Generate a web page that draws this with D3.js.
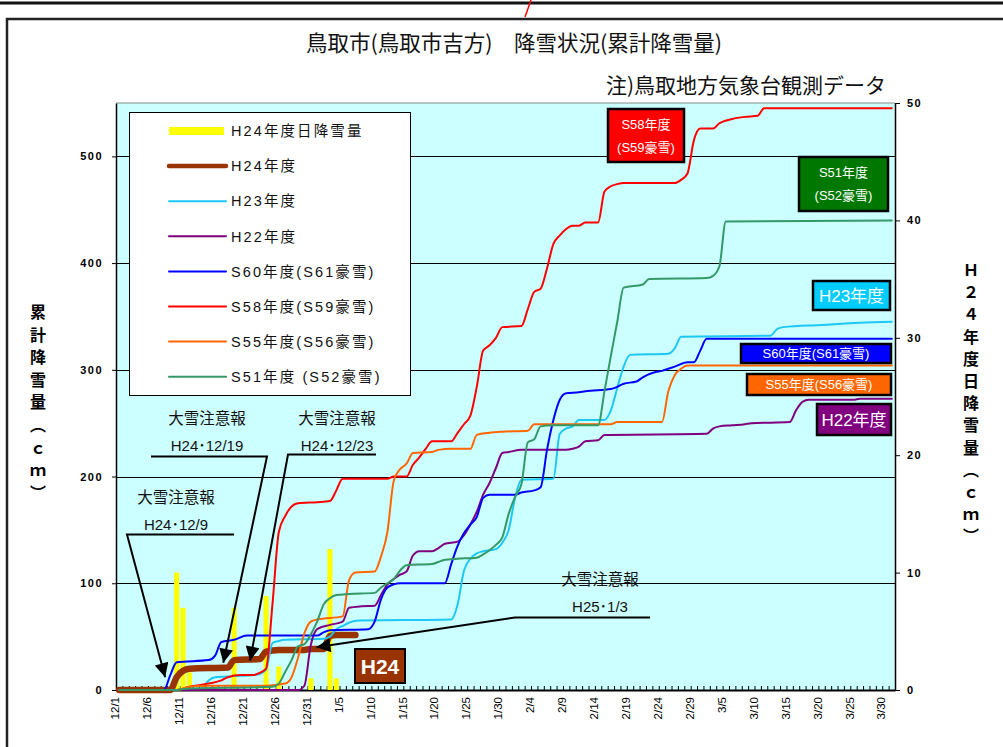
<!DOCTYPE html>
<html>
<head>
<meta charset="utf-8">
<script src="https://cdn.jsdelivr.net/npm/d3@7/dist/d3.min.js"></script>
<style>
  body { margin: 0; background: #fff; }
  svg { display: block; }
</style>
</head>
<body>
<script>
// ---- data ----------------------------------------------------------
// season runs 12/1 .. 3/31 (leap February), one category per day
const monthLengths = [["12", 31], ["1", 31], ["2", 29], ["3", 31]];
const tickLabels = ["12/1","12/6","12/11","12/16","12/21","12/26","12/31","1/5","1/10","1/15",
  "1/20","1/25","1/30","2/4","2/9","2/14","2/19","2/24","2/29","3/5","3/10","3/15","3/20","3/25","3/30"];

// daily snowfall H24 (day index from 12/1, cm) - right axis
const h24Daily = [[9,10],[10,7],[11,1.5],[18,7],[23,8],[25,2],[30,1],[33,12],[34,1]];

// cumulative snowfall (day index, cm) - left axis
const h24Total = [[0,0],[8,0],[9,12],[10,18],[11,20],[17,21],[18,28],[22,29],[23,36],[25,37.5],
  [29,37.5],[30,38.5],[32,38.5],[33,50.5],[34,51.5],[37,51.5]];
const h23Total = [[0,0],[12,0],[13,2],[14,9],[15,12],[18,13],[21,14],[22,15],[23,19],[24,44],[25,46],
  [26,47],[32,48],[33,50],[34,57],[35,60],[36,63],[37,65],[52,66],[53,80],[54,112],[55,123],[56,128],
  [57,130],[59,132],[60,138],[61,150],[62,180],[63,197],[68,198],[69,240],[70,245],[71,247],[72,253],
  [76,253],[77,262],[78,283],[79,303],[80,314],[86,315],[87,320],[88,331],[102,332],[103,338],
  [104,340],[110,342],[116,344],[121,345]];
const h22Total = [[0,0],[28,0],[29,4],[30,42],[31,57],[33,61],[35,64],[36,77],[38,78.5],[40,79],
  [41,89],[42,99],[43,104],[44,108],[45,111],[46,126],[47,130],[49,130],[50,133],[51,137],[53,139],
  [54,145],[55,155],[56,167],[57,183],[58,194],[59,208],[60,222],[61,223],[63,225],[70,225],[71,226],
  [72,228],[73,233],[75,234],[76,239],[92,240],[93,245],[94,247],[96,248],[98,249],[99,250],
  [105,251],[106,262],[107,270],[108,272],[115,272],[116,273],[121,273]];
const s60Total = [[0,0],[7,0],[8,14],[9,26],[14,28],[15,32],[16,45],[18,47],[20,51],[31,51],[32,54],
  [33,56],[39,57],[40,64],[41,85],[42,96],[43,99],[44,100],[51,100],[52,118],[53,135],[54,147],
  [55,155],[56,162],[57,180],[58,183],[62,183],[63,185],[65,187],[66,190],[67,225],[68,253],[69,272],
  [70,278],[72,279],[73,280],[77,282],[78,284],[79,287],[81,289],[82,293],[83,296],[84,298],[85,299],
  [86,301],[87,303],[89,307],[90,307],[91,318],[92,329],[121,329]];
const s58Total = [[0,0],[9,0],[11,3],[14,6],[16,9],[17,12],[19,14],[21,14],[22,16],[23,20],[24,80],
  [25,148],[26,163],[27,172],[28,175],[31,176],[33,177],[34,187],[35,198],[42,198],[43,200],[45,200],
  [46,211],[47,218],[48,226],[49,233],[52,233],[53,241],[54,249],[55,257],[56,284],[57,318],[58,323],
  [59,330],[60,340],[63,341],[64,357],[65,373],[66,376],[67,395],[68,418],[69,426],[70,432],[71,435],
  [72,435],[73,438],[75,438],[76,467],[77,472],[78,474],[79,475],[87,475],[88,478],[89,484],[90,515],
  [91,526],[93,526],[94,531],[96,535],[98,537],[100,538],[101,545],[121,545]];
const s55Total = [[0,0],[9,0],[11,3],[14,4],[23,4],[26,6],[27,12],[28,30],[29,53],[30,64],[31,66],
  [35,69],[36,103],[37,110],[40,111],[41,125],[42,148],[43,196],[44,207],[45,212],[46,222],[49,223],
  [50,225],[52,226],[55,226],[56,239],[58,241],[60,242],[64,243],[65,249],[77,249],[78,251],[85,251],
  [86,280],[87,295],[88,301],[89,304],[121,304]];
const s51Total = [[0,0],[9,0],[10,1],[24,3],[25,6],[26,17],[27,28],[28,41],[29,43],[30,52],[31,64],
  [32,80],[33,86],[34,89],[36,90],[40,91],[41,96],[42,100],[43,104],[44,112],[45,117],[49,118],
  [50,120],[51,122],[53,123],[56,124],[57,127],[58,131],[59,136],[60,143],[61,165],[62,181],[63,193],
  [64,232],[65,235],[66,247],[68,248],[75,248],[76,280],[77,313],[78,345],[79,377],[82,380],[83,385],
  [92,386],[93,388],[94,397],[95,439],[121,440]];

const leftTicks = [0, 100, 200, 300, 400, 500];
const rightTicks = [0, 10, 20, 30, 40, 50];

// heavy snow warnings: [label, date text, day index, cm on H24 line]
const alerts = [
  ["大雪注意報", "H24･12/9", 7.2, 12],
  ["大雪注意報", "H24･12/19", 16.3, 25.5],
  ["大雪注意報", "H24･12/23", 20.5, 27.5],
  ["大雪注意報", "H25･1/3", 30.9, 40]
];

// ---- layout --------------------------------------------------------
const W = 1003, H = 747;
const plot = {left: 116, right: 895, top: 103, bottom: 690};
const jp = "'Noto Sans CJK JP', sans-serif";
const mixed = "'Liberation Sans', 'Noto Sans CJK JP', sans-serif";

const days = [];
monthLengths.forEach(([m, n]) => { for (let d = 1; d <= n; d++) days.push(m + "/" + d); });

const x = d3.scaleLinear().domain([-0.5, days.length - 0.5]).range([plot.left, plot.right]);
const y = d3.scaleLinear().domain([0, 550]).range([plot.bottom, plot.top]);
const y2 = d3.scaleLinear().domain([0, 50]).range([plot.bottom, plot.top]);

const svg = d3.select("body").append("svg").attr("width", W).attr("height", H);

// page frame bits
svg.append("line").attr("x1", 0).attr("x2", W).attr("y1", 3).attr("y2", 3)
  .attr("stroke", "#111").attr("stroke-width", 3);
svg.append("rect").attr("x", 7).attr("y", 19).attr("width", W + 20).attr("height", H)
  .attr("fill", "none").attr("stroke", "#222").attr("stroke-width", 2.5);
svg.append("line").attr("x1", 531).attr("y1", 0).attr("x2", 525).attr("y2", 17)
  .attr("stroke", "#f00").attr("stroke-width", 1.5);

// titles
svg.append("text").attr("x", 514).attr("y", 51).attr("text-anchor", "middle")
  .style("font-family", jp).style("font-size", "21.5px").attr("fill", "#111")
  .text("鳥取市(鳥取市吉方)　降雪状況(累計降雪量)");
svg.append("text").attr("x", 886).attr("y", 93).attr("text-anchor", "end")
  .style("font-family", jp).style("font-size", "21px").attr("fill", "#111")
  .text("注)鳥取地方気象台観測データ");

// plot background
svg.append("rect").attr("x", plot.left).attr("y", plot.top)
  .attr("width", plot.right - plot.left).attr("height", plot.bottom - plot.top)
  .attr("fill", "#ccffff");
svg.append("line").attr("x1", plot.left).attr("x2", plot.right).attr("y1", plot.top).attr("y2", plot.top)
  .attr("stroke", "#888").attr("stroke-width", 1);

// gridlines
svg.append("g").selectAll("line").data(leftTicks.slice(1)).enter().append("line")
  .attr("x1", plot.left).attr("x2", plot.right)
  .attr("y1", d => Math.round(y(d)) + 0.5).attr("y2", d => Math.round(y(d)) + 0.5)
  .attr("stroke", "#000").attr("stroke-width", 1);

// axes
const axL = svg.append("g").attr("transform", `translate(${plot.left},0)`)
  .call(d3.axisLeft(y).tickValues(leftTicks).tickSize(4).tickSizeOuter(0).tickPadding(9));
const axR = svg.append("g").attr("transform", `translate(${plot.right},0)`)
  .call(d3.axisRight(y2).tickValues(rightTicks).tickSize(5).tickSizeOuter(0).tickPadding(7));
[axL, axR].forEach(g => {
  g.select(".domain").attr("stroke", "#000").attr("stroke-width", 1.5);
  g.selectAll("text").style("font-family", mixed).style("font-size", "11px")
    .style("font-weight", "bold").style("letter-spacing", "1.5px").attr("fill", "#000");
});

const axB = svg.append("g").attr("transform", `translate(0,${plot.bottom})`)
  .call(d3.axisBottom(x).tickValues(d3.range(-0.5, days.length, 1)).tickSize(-4)
    .tickSizeOuter(0).tickFormat(""));
axB.select(".domain").attr("stroke", "#000").attr("stroke-width", 2);
axB.selectAll(".tick line").attr("stroke", "#000");

svg.append("g").selectAll("text").data(tickLabels).enter().append("text")
  .attr("transform", d => `translate(${x(days.indexOf(d)) - 4},${plot.bottom + 7}) rotate(-90)`)
  .attr("text-anchor", "end").attr("dy", "0.35em")
  .style("font-family", mixed).style("font-size", "11.5px").attr("fill", "#000")
  .text(d => d);

// vertical axis titles
function vertical(chars, cx, cy, step) {
  svg.append("g").selectAll("text").data(chars).enter().append("text")
    .attr("x", cx).attr("y", (d, i) => cy + i * step)
    .attr("text-anchor", "middle").attr("dominant-baseline", "central")
    .style("font-family", jp).style("font-size", "16px").style("font-weight", "bold")
    .attr("fill", "#000").text(d => d);
}
vertical(["累","計","降","雪","量","︵","ｃ","ｍ","︶"], 38, 311, 22.6);
vertical(["Ｈ","２","４","年","度","日","降","雪","量","︵","ｃ","ｍ","︶"], 971, 269, 22.2);

// daily bars
const barW = (x(1) - x(0)) * 0.8;
svg.append("g").selectAll("rect").data(h24Daily).enter().append("rect")
  .attr("x", d => x(d[0]) - barW / 2).attr("width", barW)
  .attr("y", d => y2(d[1])).attr("height", d => plot.bottom - y2(d[1]))
  .attr("fill", "#ffff00");

// cumulative lines
const series = [
  {name: "H24年度", data: h24Total, color: "#993300", width: 6.5},
  {name: "H23年度", data: h23Total, color: "#1ec8f5", width: 2},
  {name: "H22年度", data: h22Total, color: "#800080", width: 2},
  {name: "S60年度(S61豪雪)", data: s60Total, color: "#0000ff", width: 2},
  {name: "S58年度(S59豪雪)", data: s58Total, color: "#ff0000", width: 2},
  {name: "S55年度(S56豪雪)", data: s55Total, color: "#ff6600", width: 2},
  {name: "S51年度 (S52豪雪)", data: s51Total, color: "#339966", width: 2}
];
const line = d3.line().x(d => x(d[0])).y(d => y(d[1])).curve(d3.curveMonotoneX);
svg.append("g").selectAll("path").data(series).enter().append("path")
  .attr("d", d => line(d.data)).attr("fill", "none")
  .attr("stroke", d => d.color).attr("stroke-width", d => d.width)
  .attr("stroke-linecap", "round").attr("stroke-linejoin", "round");

// legend
const lg = svg.append("g");
lg.append("rect").attr("x", 129.5).attr("y", 112.5).attr("width", 281).attr("height", 283)
  .attr("fill", "#fff").attr("stroke", "#000").attr("stroke-width", 1);
const legendRows = [{name: "H24年度日降雪量", bar: true}].concat(series);
legendRows.forEach((s, i) => {
  const cy = 131 + i * 35.1;
  if (s.bar) {
    lg.append("rect").attr("x", 169).attr("y", cy - 4).attr("width", 55).attr("height", 8).attr("fill", "#ffff00");
  } else {
    lg.append("line").attr("x1", 169).attr("x2", 226).attr("y1", cy).attr("y2", cy)
      .attr("stroke", s.color).attr("stroke-width", s.width > 3 ? 4.5 : 2).attr("stroke-linecap", "round");
  }
  lg.append("text").attr("x", 231).attr("y", cy).attr("dy", "0.36em")
    .style("font-family", mixed).style("font-size", "14.5px").style("letter-spacing", "2.1px")
    .attr("fill", "#111").text(s.name);
});

// series name boxes
const boxes = [
  {lines: ["S58年度", "(S59豪雪)"], color: "#ff0000", x: 608, y: 109, w: 76, h: 53, size: 13},
  {lines: ["S51年度", "(S52豪雪)"], color: "#007800", x: 799, y: 157, w: 89, h: 54, size: 13},
  {lines: ["H23年度"], color: "#00ccff", x: 813, y: 281, w: 77, h: 29, size: 17},
  {lines: ["S60年度(S61豪雪)"], color: "#0000ff", x: 741, y: 344, w: 150, h: 19, size: 13},
  {lines: ["S55年度(S56豪雪)"], color: "#ff6600", x: 747, y: 374, w: 144, h: 21, size: 13},
  {lines: ["H22年度"], color: "#800080", x: 817, y: 404, w: 74, h: 31, size: 17}
];
boxes.forEach(b => {
  svg.append("rect").attr("x", b.x).attr("y", b.y).attr("width", b.w).attr("height", b.h)
    .attr("fill", b.color).attr("stroke", "#000").attr("stroke-width", 2.5);
  b.lines.forEach((t, i) => {
    svg.append("text").attr("x", b.x + b.w / 2)
      .attr("y", b.y + b.h / 2 + (i - (b.lines.length - 1) / 2) * 23)
      .attr("dy", "0.36em").attr("text-anchor", "middle")
      .style("font-family", mixed).style("font-size", b.size + "px").attr("fill", "#fff").text(t);
  });
});
svg.append("rect").attr("x", 355).attr("y", 649).attr("width", 50).attr("height", 34)
  .attr("fill", "#993300").attr("stroke", "#000").attr("stroke-width", 2);
svg.append("text").attr("x", 380).attr("y", 666).attr("dy", "0.36em").attr("text-anchor", "middle")
  .style("font-family", mixed).style("font-size", "21px").style("font-weight", "bold")
  .attr("fill", "#fff").text("H24");

// warning annotations
svg.append("defs").append("marker").attr("id", "head")
  .attr("viewBox", "0 0 10 10").attr("refX", 10).attr("refY", 5)
  .attr("markerUnits", "userSpaceOnUse").attr("markerWidth", 17).attr("markerHeight", 14)
  .attr("orient", "auto")
  .append("path").attr("d", "M0,0L10,5L0,10z").attr("fill", "#000");

// label block placement: text centre, shelf line ends, elbow
const alertLayout = [
  {cx: 176, ty: 503, x1: 234, x2: 127, ly: 534.5},
  {cx: 207, ty: 424, x1: 151, x2: 267, ly: 456.5},
  {cx: 337, ty: 424, x1: 376, x2: 288, ly: 454.5},
  {cx: 600, ty: 585, x1: 650, x2: 515, ly: 617.5}
];
alerts.forEach((a, i) => {
  const L = alertLayout[i];
  svg.append("text").attr("x", L.cx).attr("y", L.ty).attr("text-anchor", "middle")
    .style("font-family", jp).style("font-size", "15.5px").attr("fill", "#111").text(a[0]);
  svg.append("text").attr("x", L.cx).attr("y", L.ty + 27).attr("text-anchor", "middle")
    .style("font-family", mixed).style("font-size", "15px").attr("fill", "#111").text(a[1]);
  svg.append("path")
    .attr("d", `M${L.x1},${L.ly}H${L.x2}L${x(a[2])},${y(a[3])}`)
    .attr("fill", "none").attr("stroke", "#000").attr("stroke-width", 2)
    .attr("marker-end", "url(#head)");
});
</script>
</body>
</html>
